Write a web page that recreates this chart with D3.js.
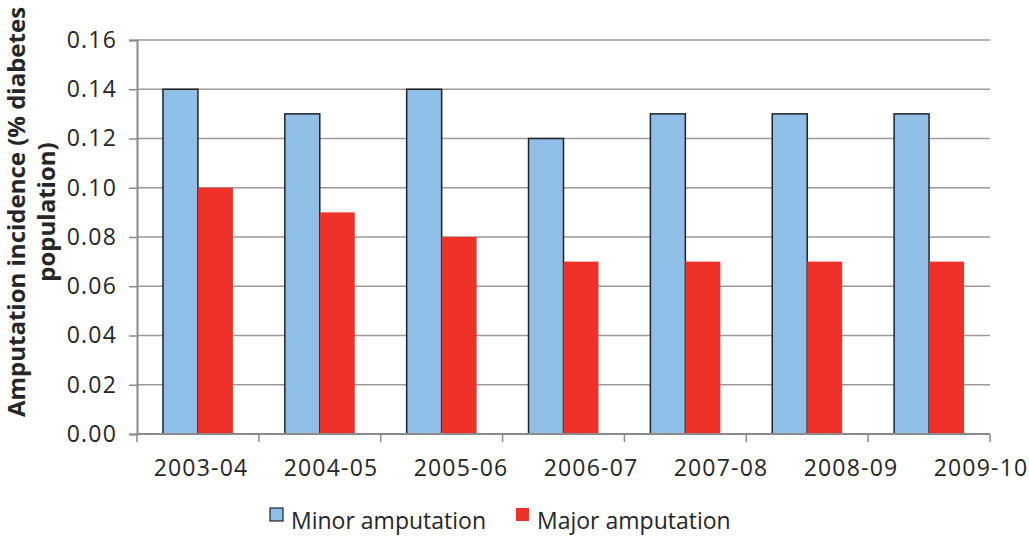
<!DOCTYPE html>
<html><head><meta charset="utf-8">
<script src="https://cdn.jsdelivr.net/npm/d3@7"></script>
<style>body{margin:0;background:#fff;} text{font-family:"Open Sans","Noto Sans",sans-serif;fill:#262626;}</style>
</head><body>
<svg id="c" width="1029" height="536"></svg>
<script>
const categories = ["2003-04","2004-05","2005-06","2006-07","2007-08","2008-09","2009-10"];
const minorValues = [0.14,0.13,0.14,0.12,0.13,0.13,0.13];
const majorValues = [0.10,0.09,0.08,0.07,0.07,0.07,0.07];
const seriesNames = ["Minor amputation","Major amputation"];
const yTicks = [0,0.02,0.04,0.06,0.08,0.10,0.12,0.14,0.16];

const svg = d3.select("#c");
const L=137,R=990,T=40,B=434;
const x = d3.scaleBand().domain(categories).range([L,R]).paddingInner(0.426).paddingOuter(0.213);
const xs = d3.scaleBand().domain(seriesNames).range([0,x.bandwidth()]);
const y = d3.scaleLinear().domain([0,0.16]).range([B,T]);
const labelX = d3.scalePoint().domain(categories).range([201,981]);
const colors = ["#8fbfe6","#ee3129"];

// gridlines
svg.append("g").selectAll("line").data(yTicks).join("line")
  .attr("x1",L).attr("x2",R).attr("y1",d=>y(d)).attr("y2",d=>y(d))
  .attr("stroke","#9a9a9a").attr("stroke-width",1.5);

// y axis
const ya = svg.append("g").attr("transform",`translate(${L},0)`)
  .call(d3.axisLeft(y).tickValues(yTicks).tickFormat(d3.format(".2f")).tickSize(8).tickPadding(12));
ya.select(".domain").attr("stroke","#8a8a8a").attr("stroke-width",2);
ya.selectAll(".tick line").attr("stroke","#8a8a8a").attr("stroke-width",1.5);
ya.selectAll("text").attr("font-size",23).attr("fill","#262626").attr("font-family","Open Sans").attr("letter-spacing","1.2px");

// bars
const data = categories.map((c,i)=>({c,vals:[minorValues[i],majorValues[i]]}));
const g = svg.append("g");
data.forEach(d=>{
  d.vals.forEach((v,j)=>{
    g.append("rect").attr("x",x(d.c)+xs(seriesNames[j])).attr("width",xs.bandwidth())
     .attr("y",y(v)).attr("height",B-y(v)).attr("fill",colors[j])
     .attr("stroke",j===0?"#222":"none").attr("stroke-width",1.5);
  });
});

// x axis
const xa = svg.append("g").attr("transform",`translate(0,${B})`);
xa.append("line").attr("x1",L).attr("x2",R).attr("y1",0).attr("y2",0).attr("stroke","#8a8a8a").attr("stroke-width",2);
const bounds = categories.map(c=>x(c)-x.step()*x.paddingOuter()).concat([R]);
xa.selectAll("line.t").data(bounds).join("line").attr("class","t")
  .attr("x1",d=>d).attr("x2",d=>d).attr("y1",0).attr("y2",8).attr("stroke","#8a8a8a").attr("stroke-width",1.5);
xa.selectAll("text").data(categories).join("text")
  .attr("x",d=>labelX(d)).attr("y",42).attr("text-anchor","middle").attr("font-size",23).attr("letter-spacing","1.2px").text(d=>d);

// y title
const yt = svg.append("text").attr("transform","translate(25,212) rotate(-90)")
  .attr("text-anchor","middle").attr("font-size",24).attr("font-weight","bold");
yt.append("tspan").attr("x",0).attr("dy",0).text("Amputation incidence (% diabetes");
yt.append("tspan").attr("x",0).attr("dy","1.25em").text("population)");

// legend
const legX = [270,516];
seriesNames.forEach((n,i)=>{
  svg.append("rect").attr("x",legX[i]).attr("y",508).attr("width",13).attr("height",13)
    .attr("fill",colors[i]).attr("stroke",i===0?"#222":"none").attr("stroke-width",1.2);
  svg.append("text").attr("x",legX[i]+21).attr("y",529).attr("font-size",23).text(n);
});
</script>
</body></html>
